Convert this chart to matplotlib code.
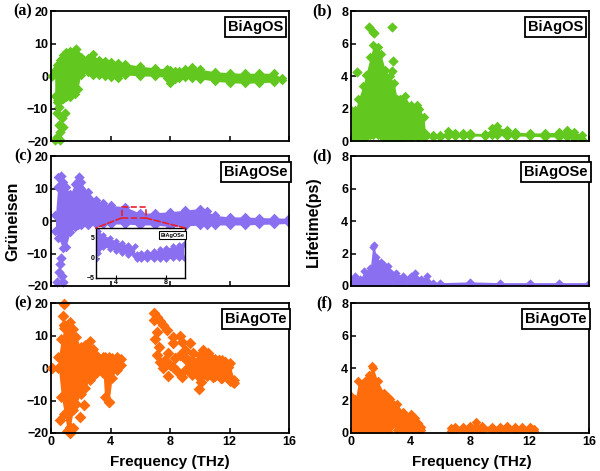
import matplotlib.pyplot as plt
from matplotlib.patches import Rectangle, ConnectionPatch

GREEN = '#62c820'
PURPLE = '#8a6ff0'
ORANGE = '#ff6c0c'

# ---- (a) BiAgOS Grüneisen: band envelope + isolated points
a_freq = [0.25, 0.4, 0.6, 0.8, 1.0, 1.3, 1.6, 1.8, 2.0, 2.5, 2.8, 3.2, 3.6, 4.0, 4.5, 5.0,
          6.0, 7.0, 7.8, 8.0, 8.3, 8.6, 9.0, 9.5, 10.0, 11.0, 12.0, 13.0, 14.0, 15.0, 15.5]
a_high = [2.0, 3.5, 5.0, 6.5, 7.5, 7.8, 8.0, 6.5, 5.8, 5.6, 7.0, 5.0, 4.6, 4.4, 4.2, 3.9,
          3.1, 2.6, 2.2, 2.0, 1.6, 1.5, 2.3, 3.0, 2.2, 1.4, 1.1, 0.9, 1.0, 0.9, -0.6]
a_low = [-6.0, -8.0, -7.5, -7.0, -6.5, -6.3, -5.5, -4.0, 0.4, 1.3, 0.4, 0.3, 0.2, -0.1, -0.6, 0.4,
         0.1, 0.0, -0.4, -2.0, -1.0, -0.5, -0.2, -0.6, -0.8, -1.5, -2.0, -2.2, -2.0, -1.8, -1.2]
a_pf = [0.05, 0.5, 0.55, 0.4, 0.94, 0.72, 0.55, 0.83, 0.6, 0.4, 0.6, 0.27, 1.7]
a_pv = [0.0, -7.3, -9.4, -11.4, -11.4, -13.0, -15.0, -15.6, -17.1, -18.7, -19.7, -19.7, 8.4]

# ---- (b) BiAgOS lifetime
b_freq = [0.0, 0.3, 0.5, 0.8, 1.0, 1.3, 1.5, 1.8, 2.0, 2.3, 2.6, 2.9, 3.1, 3.3, 3.6, 4.0, 4.4,
          4.6, 4.9, 5.0, 5.5, 6.0, 6.5, 7.0, 7.5, 8.0, 9.0, 9.5, 9.8, 10.5, 11.0, 12.0, 13.0,
          14.0, 14.5, 15.0, 15.5]
b_high = [1.9, 1.9, 2.6, 3.4, 4.1, 5.2, 5.9, 5.8, 5.4, 4.4, 4.0, 3.6, 2.6, 2.6, 2.8, 2.2, 2.2,
          2.0, 1.5, 0.5, 0.4, 0.4, 0.6, 0.5, 0.5, 0.5, 0.45, 0.8, 0.9, 0.65, 0.55, 0.5, 0.5,
          0.55, 0.7, 0.55, 0.4]
b_low = [0.2, 0.05, 0.05, 0.1, 0.25, 0.35, 0.4, 0.35, 0.3, 0.2, 0.05, 0.05, 0.05, 0.1, 0.2, 0.2,
         0.25, 0.25, 0.25, 0.25, 0.25, 0.25, 0.3, 0.3, 0.3, 0.3, 0.3, 0.35, 0.35, 0.3, 0.3, 0.3,
         0.25, 0.25, 0.25, 0.2, 0.15]
b_pf = [1.23, 1.45, 1.55, 2.73, 2.8, 2.73, 0.43, 1.05]
b_pv = [7.07, 6.75, 6.65, 7.03, 4.97, 4.35, 4.29, 4.1]

# ---- (c) BiAgOSe Grüneisen
c_freq = [0.3, 0.5, 0.8, 1.0, 1.3, 1.6, 1.8, 2.0, 2.5, 3.0, 3.5, 4.0, 5.0, 6.0, 7.0, 8.0, 9.0,
          10.0, 10.5, 11.0, 12.0, 13.0, 14.0, 15.0, 16.0]
c_high = [2.0, 13.5, 12.0, 10.5, 8.5, 11.5, 12.5, 12.0, 9.0, 6.5, 5.5, 4.9, 4.4, 2.4, 2.6, 2.9,
          3.4, 3.9, 3.0, 1.8, 1.3, 1.3, 1.1, 1.0, 0.9]
c_low = [-3.0, -5.3, -8.4, -7.9, -3.3, -1.7, -1.2, -1.2, -1.2, -1.0, -1.0, -0.9, -0.9, -1.2, -1.2,
         -1.7, -1.5, -1.2, -1.2, -1.2, -1.2, -1.2, -1.0, -0.9, -0.7]
c_pf = [0.67, 0.6, 0.56, 0.72, 0.38, 0.83, 0.67, 1.9, 0.5]
c_pv = [-11.3, -13.3, -15.7, -16.9, -18.7, -18.9, 14.0, 13.5, 10.5]

# inset of (c)
ci1_freq = [2.4, 2.6, 3.0, 3.5, 4.0, 4.5, 5.0, 5.5]
ci1_high = [7.0, 6.5, 5.5, 4.8, 4.0, 3.5, 3.0, 2.8]
ci1_low = [-0.4, 1.0, 2.6, 2.2, 1.6, 1.0, 0.7, 0.4]
ci2_freq = [5.7, 6.0, 6.5, 7.0, 7.5, 8.0, 8.5, 9.0, 9.4]
ci2_high = [0.8, 1.0, 1.3, 1.6, 2.0, 2.3, 2.7, 3.0, 3.3]
ci2_low = [-0.4, -0.4, -0.4, -0.4, -0.3, -0.3, -0.2, 0.0, 0.0]

# ---- (d) BiAgOSe lifetime
d_freq = [0.0, 0.3, 0.6, 0.9, 1.3, 1.45, 1.55, 1.7, 2.0, 2.2, 2.5, 3.0, 3.5, 4.0, 4.3, 4.7,
          5.1, 5.5, 6.0, 8.0, 10.0, 12.0, 14.0, 16.0]
d_high = [0.4, 0.6, 0.4, 0.9, 1.1, 2.4, 2.5, 1.8, 1.5, 1.3, 1.2, 0.8, 0.6, 0.6, 0.8, 0.45,
          0.6, 0.2, 0.2, 0.25, 0.2, 0.2, 0.2, 0.2]
d_low = [0.03, 0.03, 0.03, 0.03, 0.03, 0.03, 0.03, 0.03, 0.03, 0.03, 0.03, 0.03, 0.03, 0.03,
         0.03, 0.03, 0.03, 0.03, 0.03, 0.03, 0.03, 0.03, 0.03, 0.03]

# ---- (e) BiAgOTe Grüneisen
e_freq = [0.5, 0.7, 0.9, 1.1, 1.3, 1.5, 1.7, 2.0, 2.3, 2.6, 2.8, 3.0, 3.5, 3.6, 3.9, 4.1, 4.4, 4.7]
e_high = [3.5, 9.0, 12.5, 13.5, 14.3, 12.0, 9.5, 6.6, 7.1, 8.4, 6.0, 4.0, 3.6, 3.4, 3.6, 3.2, 3.6, 2.8]
e_low = [0.0, -9.0, -14.0, -19.5, -18.0, -13.0, -11.0, -8.0, -6.0, -3.7, -2.5, -1.6, -1.5, -9.0,
         -10.5, -3.0, -0.5, 1.0]
e2_freq = [9.0, 9.5, 10.0, 10.5, 11.0, 11.5, 12.0, 12.3]
e2_high = [3.0, 2.5, 4.0, 4.0, 3.0, 2.5, 1.5, -3.5]
e2_low = [-0.5, -2.0, -3.0, -2.5, -2.5, -3.0, -3.8, -4.5]
e_pf = [0.05, 0.85, 0.8, 0.9, 1.25, 1.97, 2.24, 3.92, 0.6, 1.5,
        6.91, 7.09, 7.32, 7.54, 7.76, 6.91, 7.09, 6.98, 7.27, 7.09, 7.32, 7.65, 7.54, 7.87,
        7.87, 8.21, 8.21, 8.66, 8.77, 8.32, 8.66, 8.99, 9.1, 8.77, 9.21, 9.33, 9.55, 9.78,
        10.0, 10.0, 9.96, 10.1, 10.3, 10.2, 10.56, 10.78, 10.9, 11.1, 11.3, 11.7, 11.9, 11.8,
        12.0, 12.2, 11.45, 10.9, 10.45, 8.2, 8.43, 7.99]
e_pv = [0.0, 19.8, 16.1, 13.2, -20.0, -15.0, -11.4, -10.4, -16.0, -18.5,
        17.0, 15.8, 14.6, 13.3, 11.9, 14.8, 11.2, 8.9, 6.6, 4.1, 2.0, 2.6, 0.0, -2.3,
        4.6, 7.7, 9.7, 9.9, 8.2, 3.1, 4.1, 5.6, 3.1, -2.6, -0.5, 7.7, 4.6, 2.0,
        0.5, -2.0, -6.4, -4.1, 0.0, 5.6, 4.6, 3.1, 1.0, -0.5, 2.6, 2.0, 0.5, -2.0,
        -3.6, -4.4, -3.1, -2.6, -1.5, 0.5, -1.0, 1.0]

# ---- (f) BiAgOTe lifetime
f1_freq = [0.0, 0.3, 0.5, 0.8, 1.0, 1.2, 1.4, 1.5, 1.8, 2.2, 2.5, 2.6, 2.8, 3.0, 3.1, 3.5,
           4.0, 4.3, 4.5, 4.7]
f1_high = [2.3, 2.1, 3.2, 3.1, 3.3, 3.6, 4.15, 4.0, 3.2, 2.5, 2.2, 2.1, 1.8, 1.7, 1.8, 1.3,
           1.2, 0.9, 0.6, 0.4]
f1_low = [0.05, 0.05, 0.05, 0.05, 0.05, 0.05, 0.05, 0.05, 0.05, 0.05, 0.1, 0.4, 0.6, 0.5, 0.2,
          0.05, 0.05, 0.1, 0.15, 0.2]
f2_freq = [6.7, 7.0, 7.5, 8.0, 8.4, 8.8, 9.5, 10.0, 10.5, 11.0, 11.5, 12.0, 12.3]
f2_high = [0.3, 0.4, 0.4, 0.45, 0.65, 0.45, 0.4, 0.4, 0.45, 0.4, 0.4, 0.35, 0.25]
f2_low = [0.12, 0.1, 0.1, 0.1, 0.1, 0.1, 0.1, 0.1, 0.1, 0.1, 0.1, 0.1, 0.12]

plt.rcParams['font.family'] = ['Liberation Sans', 'DejaVu Sans']
plt.rcParams['font.weight'] = 'bold'

fig = plt.figure(figsize=(6, 4.71), dpi=100)

lefts = [0.085, 0.585]
bottoms = [0.7006, 0.393, 0.0807]
W, H = 0.397, 0.275


def band(ax, f, lo, hi, color, s=24):
    ax.fill_between(f, lo, hi, color=color, lw=0, zorder=2)
    ax.scatter(f, hi, marker='D', s=s, color=color, lw=0, zorder=2)
    ax.scatter(f, lo, marker='D', s=s, color=color, lw=0, zorder=2)


def pts(ax, f, v, color, s=28):
    ax.scatter(f, v, marker='D', s=s, color=color, lw=0, clip_on=False, zorder=2)


def style(ax, ylim, yticks, name, letter, bottom_row):
    ax.set_xlim(0, 16)
    ax.set_ylim(*ylim)
    ax.set_xticks([0, 4, 8, 12, 16])
    ax.set_yticks(yticks)
    ax.tick_params(direction='in', length=3.5, width=1.1, labelsize=9,
                   top=False, right=False, pad=2)
    if not bottom_row:
        ax.tick_params(labelbottom=False)
    for sp in ax.spines.values():
        sp.set_linewidth(1.3)
    ax.text(0.86, 0.88, name, transform=ax.transAxes, ha='center', va='center',
            fontsize=10.5, fontweight='bold', zorder=5,
            bbox=dict(boxstyle='square,pad=0.2', fc='white', ec='black', lw=1.3))
    ax.text(-0.08, 1.0, letter, transform=ax.transAxes, ha='right', va='center',
            fontsize=11.5, fontweight='bold', family='Liberation Serif')


axs = [[fig.add_axes([l, b, W, H]) for l in lefts] for b in bottoms]
ax_a, ax_b = axs[0]
ax_c, ax_d = axs[1]
ax_e, ax_f = axs[2]

band(ax_a, a_freq, a_low, a_high, GREEN)
pts(ax_a, a_pf, a_pv, GREEN)
style(ax_a, (-20, 20), [-20, -10, 0, 10, 20], 'BiAgOS', '(a)', False)

band(ax_b, b_freq, b_low, b_high, GREEN)
pts(ax_b, b_pf, b_pv, GREEN)
style(ax_b, (0, 8), [0, 2, 4, 6, 8], 'BiAgOS', '(b)', False)

band(ax_c, c_freq, c_low, c_high, PURPLE)
pts(ax_c, c_pf, c_pv, PURPLE)
style(ax_c, (-20, 20), [-20, -10, 0, 10, 20], 'BiAgOSe', '(c)', False)

band(ax_d, d_freq, d_low, d_high, PURPLE, s=18)
style(ax_d, (0, 8), [0, 2, 4, 6, 8], 'BiAgOSe', '(d)', False)

band(ax_e, e_freq, e_low, e_high, ORANGE, s=32)
band(ax_e, e2_freq, e2_low, e2_high, ORANGE, s=32)
pts(ax_e, e_pf, e_pv, ORANGE, s=36)
style(ax_e, (-20, 20), [-20, -10, 0, 10, 20], 'BiAgOTe', '(e)', True)

band(ax_f, f1_freq, f1_low, f1_high, ORANGE)
band(ax_f, f2_freq, f2_low, f2_high, ORANGE)
style(ax_f, (0, 8), [0, 2, 4, 6, 8], 'BiAgOTe', '(f)', True)

# zoom box and inset in (c)
rect = Rectangle((4.75, 1.0), 1.6, 3.5, fill=False, ec='#e8202a', ls='--', lw=1.2, zorder=5)
ax_c.add_patch(rect)
ins = fig.add_axes([0.1595, 0.4098, 0.149, 0.106])
band(ins, ci1_freq, ci1_low, ci1_high, PURPLE, s=12)
band(ins, ci2_freq, ci2_low, ci2_high, PURPLE, s=12)
ins.set_xlim(2.4, 9.5)
ins.set_ylim(-5, 7.2)
ins.set_xticks([4, 8])
ins.set_yticks([-5, 0, 5])
ins.tick_params(direction='in', length=2, width=0.8, labelsize=5, pad=1)
for sp in ins.spines.values():
    sp.set_linewidth(1.0)
ins.text(0.86, 0.86, 'BiAgOSe', transform=ins.transAxes, ha='center', va='center',
         fontsize=4, fontweight='bold', zorder=5,
         bbox=dict(boxstyle='square,pad=0.25', fc='white', ec='black', lw=0.8))
for xa, xb in [((4.75, 1.0), (0, 1)), ((6.35, 1.0), (1, 1))]:
    con = ConnectionPatch(xyA=xa, coordsA=ax_c.transData, xyB=xb, coordsB=ins.transAxes,
                          color='#e8202a', ls='--', lw=1.2, zorder=6)
    fig.add_artist(con)

fig.text(0.022, 0.53, 'Grüneisen', rotation=90, ha='center', va='center', fontsize=11.5)
fig.text(0.522, 0.53, 'Lifetime(ps)', rotation=90, ha='center', va='center', fontsize=11.5)
fig.text(0.283, 0.019, 'Frequency (THz)', ha='center', va='center', fontsize=11)
fig.text(0.787, 0.019, 'Frequency (THz)', ha='center', va='center', fontsize=11)

fig.savefig('out.png', dpi=100)
